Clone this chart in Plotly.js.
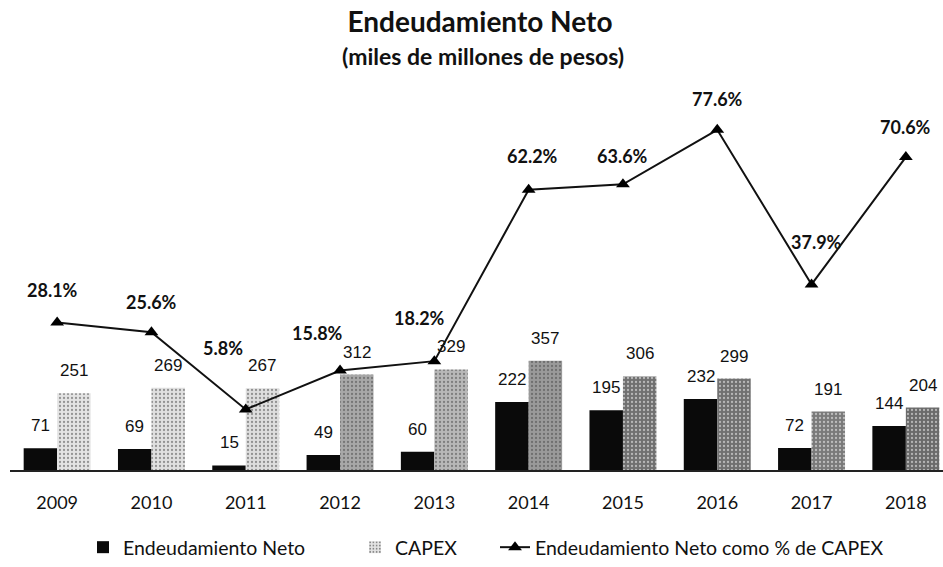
<!DOCTYPE html>
<html>
<head>
<meta charset="utf-8">
<script src="https://cdn.plot.ly/plotly-3.0.1.min.js"></script>
<style>html,body{margin:0;padding:0;background:#fff;}#chart{width:943px;height:567px;}</style>
</head>
<body>
<div id="chart"></div>
<script>
var years = ['2009','2010','2011','2012','2013','2014','2015','2016','2017','2018'];
var endeudamiento = [71, 69, 15, 49, 60, 222, 195, 232, 72, 144];
var capex = [251, 269, 267, 312, 329, 357, 306, 299, 191, 204];
var pctCapex = [28.1, 25.6, 5.8, 15.8, 18.2, 62.2, 63.6, 77.6, 37.9, 70.6];
var pctLabels = ['28.1%','25.6%','5.8%','15.8%','18.2%','62.2%','63.6%','77.6%','37.9%','70.6%'];

// styling only: shade of dithered CAPEX bars and label offsets
var capexShade = ['#e4e4e4','#e0e0e0','#dedede','#a8a8a8','#b8b8b8','#9a9a9a','#707070','#707070','#7a7a7a','#6a6a6a'];
var pctShift = [[-5,33],[0,30],[-23,61],[-23,37],[-15,43],[4,34],[0,28],[0,31],[5,42],[0,30]];

var FONT = 'Lato, "Open Sans", sans-serif';
var NUMFONT = '"Liberation Sans", Arial, sans-serif';
var barOff = 16.7;

var traces = [
  {type:'bar', name:'Endeudamiento Neto', x:years, y:endeudamiento, legend:'legend',
   marker:{color:'#0a0a0a', line:{width:0}}, hoverinfo:'skip'},
  {type:'bar', name:'CAPEX', x:years, y:capex, legend:'legend2',
   marker:{color:capexShade, line:{width:0},
     pattern:{shape:'.', fgcolor:'#222', bgcolor:capexShade, size:4, solidity:0.25, fillmode:'overlay'}},
   hoverinfo:'skip'},
  {type:'scatter', mode:'lines+markers', name:'Endeudamiento Neto como % de CAPEX', legend:'legend3',
   x:years, y:pctCapex, yaxis:'y2',
   line:{color:'#111', width:2},
   marker:{symbol:'triangle-up', size:12, color:'#000'}, hoverinfo:'skip'}
];

var ann = [];
ann.push({xref:'paper', yref:'paper', x:(483-10)/933, y:1+45/380, yanchor:'middle', xanchor:'center',
  text:'<b>(miles de millones de pesos)</b>', showarrow:false, font:{family:FONT, size:23, color:'#111'}});
for (var i = 0; i < years.length; i++) {
  ann.push({x:i, y:endeudamiento[i], xref:'x', yref:'y', xshift:-barOff, yshift:11, yanchor:'bottom', xanchor:'center',
    text:String(endeudamiento[i]), showarrow:false, font:{family:NUMFONT, size:17, color:'#111'}});
  ann.push({x:i, y:capex[i], xref:'x', yref:'y', xshift:barOff, yshift:11, yanchor:'bottom', xanchor:'center',
    text:String(capex[i]), showarrow:false, font:{family:NUMFONT, size:17, color:'#111'}});
  ann.push({x:i, y:pctCapex[i], xref:'x', yref:'y2', xshift:pctShift[i][0], yshift:pctShift[i][1], yanchor:'middle', xanchor:'center',
    text:'<b>'+pctLabels[i]+'</b>', showarrow:false, font:{family:FONT, size:18, color:'#111'}});
}

function leg(px) {
  return {orientation:'h', x:(px-10)/933, xanchor:'left', y:-80/380, yanchor:'middle',
    font:{family:FONT, size:19.5, color:'#111'}, itemwidth:30, bgcolor:'rgba(0,0,0,0)'};
}

var layout = {
  width:943, height:567,
  margin:{l:10, r:0, t:100, b:87},
  paper_bgcolor:'#fff', plot_bgcolor:'#fff',
  title:{text:'<b>Endeudamiento Neto</b>', x:0.509, xanchor:'center', y:1-22/567, yanchor:'middle', yref:'container',
    font:{family:FONT, size:28, color:'#111'}},
  barmode:'group', bargap:0.29, bargroupgap:0,
  xaxis:{type:'category', range:[-0.5, 9.394], showline:true, linecolor:'#222', linewidth:1.5,
    ticks:'', showgrid:false, zeroline:false, ticklabelstandoff:16,
    tickfont:{family:FONT, size:18, color:'#111'}},
  yaxis:{range:[0, 1210], visible:false, showgrid:false, zeroline:false},
  yaxis2:{range:[-9.75, 85.25], overlaying:'y', side:'right', visible:false, showgrid:false, zeroline:false},
  showlegend:true,
  legend:leg(83), legend2:leg(355), legend3:leg(495),
  annotations:ann
};

Plotly.newPlot('chart', traces, layout, {displayModeBar:false, staticPlot:true});
</script>
</body>
</html>
